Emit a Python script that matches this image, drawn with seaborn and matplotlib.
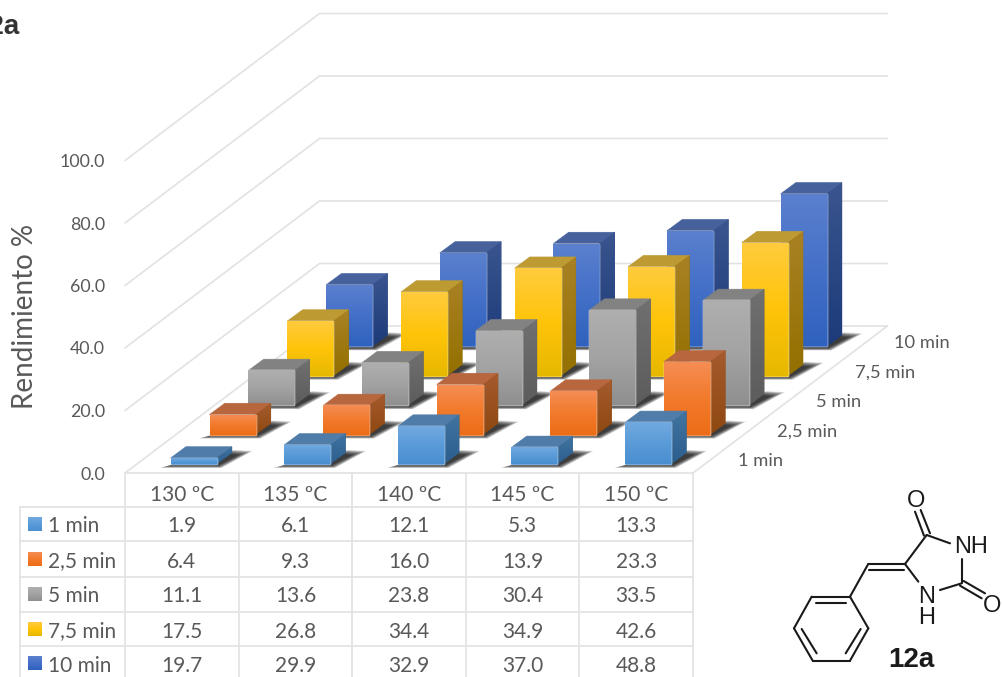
import numpy as np
import matplotlib
matplotlib.use("Agg")
import matplotlib.pyplot as plt
from matplotlib.colors import LinearSegmentedColormap
from matplotlib.patches import Polygon
import seaborn as sns

# Yield (%) per temperature and reaction time
temperatures = ["130 ºC", "135 ºC", "140 ºC", "145 ºC", "150 ºC"]
times = ["1 min", "2,5 min", "5 min", "7,5 min", "10 min"]
yield_1min = [1.9, 6.1, 12.1, 5.3, 13.3]
yield_2_5min = [6.4, 9.3, 16.0, 13.9, 23.3]
yield_5min = [11.1, 13.6, 23.8, 30.4, 33.5]
yield_7_5min = [17.5, 26.8, 34.4, 34.9, 42.6]
yield_10min = [19.7, 29.9, 32.9, 37.0, 48.8]
series = [yield_1min, yield_2_5min, yield_5min, yield_7_5min, yield_10min]
y_ticks = [0, 20, 40, 60, 80, 100]

# Face shading per series: front (top, middle, bottom), side (top, bottom), cap
shades = [
    (("#72A9E0", "#5A9BD8", "#4A8FD0"), ("#41749F", "#2B5E8E"), "#4F7CA8"),
    (("#F58D54", "#F27A2C", "#EC6D17"), ("#A55B2E", "#8E4810"), "#B7663E"),
    (("#AFAFAF", "#A3A3A3", "#8F8F8F"), ("#707070", "#5C5C5C"), "#828282"),
    (("#FFCB3E", "#FFC409", "#E6B800"), ("#A98124", "#937000"), "#BE9A33"),
    (("#5B80CE", "#4470C8", "#2F62BE"), ("#3A558F", "#1D3B7A"), "#46619B"),
]
TEXT = "#595959"
GRID = "#E2E2E2"
LABEL_FONT = "Lato"

W, H = 1002, 677
# Oblique projection of the chart, in pixels
FX0, FX1, FY0 = 125, 693, 473
PX_PER_CAT = (FX1 - FX0) / 5
PX_PER_UNIT = 3.125
SLOT_DX, SLOT_DY = 38.9, 29.4
BAR_W, BAR_DX, BAR_DY = 46.0, 15.3, 11.3

sns.set_theme(style="white")
plt.rcParams["font.family"] = [LABEL_FONT, "DejaVu Sans"]

fig = plt.figure(figsize=(W / 100, H / 100), dpi=100, facecolor="white")
ax = fig.add_axes([FX0 / W, (H - FY0) / H, (FX1 - FX0) / W, 100 * PX_PER_UNIT / H])
ax.patch.set_visible(False)
overlay = fig.add_axes([0, 0, 1, 1], zorder=5)
overlay.set_xlim(0, W)
overlay.set_ylim(H, 0)
overlay.axis("off")


def px(dx, dy):
    """Pixel offset (x right, y up) expressed in data units."""
    return dx / PX_PER_CAT, dy / PX_PER_UNIT


def gradient_face(points, colors, z):
    """Polygon with a vertical colour ramp, clipped only by its own outline."""
    pts = np.asarray(points)
    base = Polygon(pts, closed=True, facecolor=colors[len(colors) // 2], edgecolor=colors[-1],
                   lw=0.4, zorder=z, clip_on=False)
    ax.add_patch(base)
    cmap = LinearSegmentedColormap.from_list("face", colors)
    ramp = np.linspace(0, 1, 128).reshape(-1, 1)
    img = ax.imshow(ramp, cmap=cmap, aspect="auto", origin="upper", interpolation="bilinear",
                    extent=(pts[:, 0].min(), pts[:, 0].max(), pts[:, 1].min(), pts[:, 1].max()),
                    zorder=z + 0.01)
    img.set_clip_box(fig.bbox)
    img.set_clip_path(Polygon(pts, closed=True, transform=ax.transData))


# Walls and floor
back_dx, back_dy = px(5 * SLOT_DX, 5 * SLOT_DY)
x0, x1 = -0.5, 4.5
for tick in y_ticks:
    ax.plot([x0, x0 + back_dx, x1 + back_dx], [tick, tick + back_dy, tick + back_dy],
            color=GRID, lw=1.2, zorder=1, clip_on=False)
ax.plot([x1, x1 + back_dx], [0, back_dy], color=GRID, lw=1.2, zorder=1, clip_on=False)
ax.plot([x0, x1], [0, 0], color=GRID, lw=1.2, zorder=1, clip_on=False)

# Bars, from the back row to the front one
inset_x, inset_y = px((SLOT_DX - BAR_DX) / 2, (SLOT_DY - BAR_DY) / 2)
step_x, step_y = px(SLOT_DX, SLOT_DY)
bar_dx, bar_dy = px(BAR_DX, BAR_DY)
bar_width = BAR_W / PX_PER_CAT

# Contact shadow outline on the floor: dark core and outer reach, relative to a bar's front corner
shadow_core = np.array([(-2, -1.5), (BAR_W + 1, -1.5), (BAR_W + 22, 9), (BAR_W + 12, 10)], float)
shadow_reach = np.array([(-11, -4), (BAR_W + 5, -4), (BAR_W + 36, 13), (BAR_W + 18, 14)], float)

for row in range(len(series) - 1, -1, -1):
    front, side, cap = shades[row]
    before = len(ax.patches)
    sns.barplot(x=temperatures, y=series[row], color=front[1], width=bar_width,
                saturation=1, errorbar=None, ax=ax)
    bars = list(ax.patches[before:])
    base_z = 10 + (len(series) - row) * 10
    for bar in bars:
        left = bar.get_x() + inset_x + row * step_x
        bottom = inset_y + row * step_y
        height = bar.get_height()
        right = left + bar_width
        top = bottom + height
        bar.set_xy((left, bottom))
        bar.set_zorder(base_z + 3)
        bar.set_clip_on(False)

        for t in np.linspace(1, 0, 10):
            shape = shadow_core + (shadow_reach - shadow_core) * t
            ddx, ddy = px(shape[:, 0], shape[:, 1])
            ax.add_patch(Polygon(np.column_stack([left + ddx, bottom + ddy]), closed=True,
                                 facecolor="black", edgecolor="none", alpha=0.13,
                                 zorder=base_z, clip_on=False))

        gradient_face([(left, bottom), (right, bottom), (right, top), (left, top)], front, base_z + 3)
        gradient_face([(right, bottom), (right + bar_dx, bottom + bar_dy),
                       (right + bar_dx, top + bar_dy), (right, top)], side, base_z + 2)
        ax.add_patch(Polygon([(left, top), (right, top), (right + bar_dx, top + bar_dy),
                              (left + bar_dx, top + bar_dy)], closed=True, facecolor=cap,
                             edgecolor=cap, lw=0.4, zorder=base_z + 2, clip_on=False))

# Axes furniture
ax.set_xlim(x0, x1)
ax.set_ylim(0, 100)
sns.despine(ax=ax, left=True, bottom=True)
ax.grid(False)
ax.set_yticks(y_ticks, [f"{t:.1f}" for t in y_ticks])
ax.set_xticks(range(len(temperatures)), temperatures)
ax.tick_params(axis="y", length=0, pad=14.5, labelsize=12.8, labelcolor=TEXT)
ax.tick_params(axis="x", length=0, pad=8.5, labelsize=15, labelcolor=TEXT)
ax.set_ylabel("Rendimiento %", fontsize=20, color=TEXT, va="center")
ax.yaxis.set_label_coords((25 - FX0) / (FX1 - FX0), (FY0 - 316) / (100 * PX_PER_UNIT))

# Depth axis labels
for i, label in enumerate(times):
    overlay.text(738 + i * SLOT_DX, 461 - i * SLOT_DY, label, ha="left", va="center",
                 fontsize=13.2, color=TEXT)

# Data table below the chart
col_edges = [20, 125] + [FX0 + (i + 1) * PX_PER_CAT for i in range(5)]
row_edges = [506.5, 541, 576.5, 611.5, 645.5]
row_text = [526.5, 561.5, 596.5, 631.5, 665.5]
key_mid = [524, 559, 594, 629, 663.5]
for y in row_edges:
    overlay.plot([20, FX1], [y, y], color=GRID, lw=1.2)
overlay.plot([20, 20], [row_edges[0], H], color=GRID, lw=1.2)
for x in col_edges[1:]:
    overlay.plot([x, x], [FY0, H], color=GRID, lw=1.2)
for r, label in enumerate(times):
    top_c, mid_c, bot_c = shades[r][0]
    key = LinearSegmentedColormap.from_list("key", [top_c, mid_c, bot_c])
    overlay.imshow(np.linspace(0, 1, 32).reshape(-1, 1), cmap=key, aspect="auto",
                   extent=(28, 42, key_mid[r] + 7, key_mid[r] - 7), origin="upper")
    overlay.text(48, row_text[r], label, ha="left", va="center", fontsize=15, color=TEXT)
    for c, value in enumerate(series[r]):
        overlay.text(FX0 + (c + 0.5) * PX_PER_CAT, row_text[r], f"{value:.1f}", ha="center",
                     va="center", fontsize=15, color=TEXT)
overlay.set_xlim(0, W)
overlay.set_ylim(H, 0)

# Panel title, running off the left edge
overlay.text(20, 34, "12a", ha="right", va="baseline", fontsize=20, fontweight="bold",
             family="Liberation Sans", color="#333333")

# Structure of compound 12a
bonds = [
    ((125, 350), (240, 350)), ((240, 350), (295, 445)), ((295, 445), (240, 542)),
    ((240, 542), (128, 542)), ((128, 542), (72, 445)), ((72, 445), (125, 350)),
    ((138, 368), (228, 368)), ((272, 447), (227, 520)), ((95, 447), (140, 520)),
    ((240, 350), (293, 255)), ((293, 252), (405, 252)), ((297, 269), (403, 269)),
    ((405, 252), (470, 165)), ((470, 165), (540, 190)), ((575, 238), (575, 310)),
    ((575, 310), (510, 330)), ((445, 305), (405, 252)),
    ((462, 167), (435, 95)), ((480, 160), (452, 90)),
    ((581, 303), (645, 340)), ((570, 317), (635, 355)),
]
to_px = lambda p: (770 + p[0] / 3, 480 + p[1] / 3)
for a, b in bonds:
    (xa, ya), (xb, yb) = to_px(a), to_px(b)
    overlay.plot([xa, xb], [ya, yb], color="#1A1A1A", lw=1.5, solid_capstyle="round")
atoms = [("O", 437, 62), ("NH", 603, 201), ("N", 470, 350), ("H", 470, 413), ("O", 665, 378)]
for symbol, ax_x, ax_y in atoms:
    x, y = to_px((ax_x, ax_y))
    overlay.text(x, y, symbol, ha="center", va="center", fontsize=17,
                 family="Liberation Sans", color="#1A1A1A")
x, y = to_px((425, 540))
overlay.text(x, y, "12a", ha="center", va="center", fontsize=20, fontweight="bold",
             family="Liberation Sans", color="#1A1A1A")

fig.savefig("out.png", dpi=100)
